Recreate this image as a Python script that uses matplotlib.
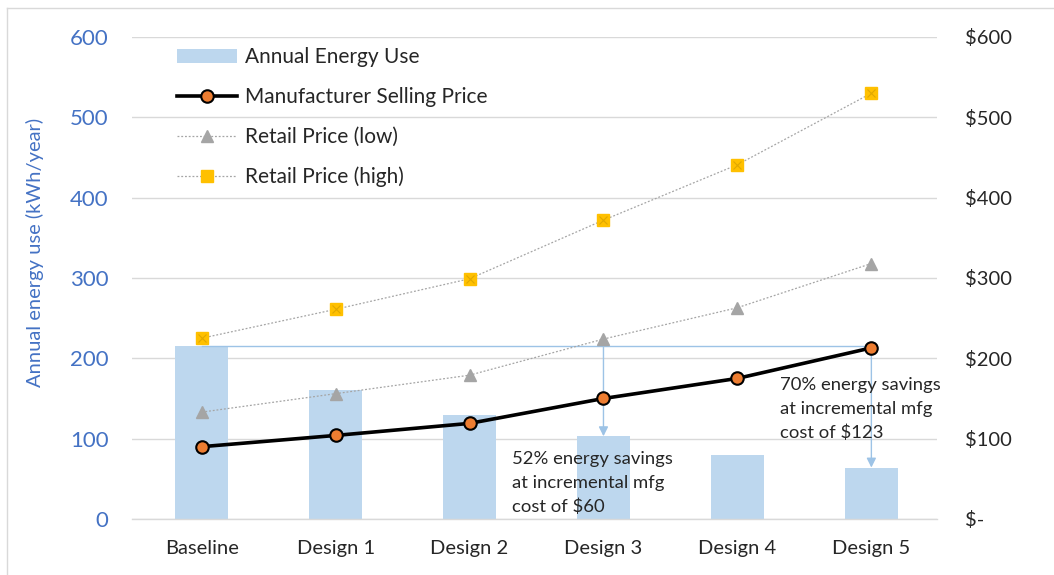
import matplotlib
matplotlib.use('Agg')
import matplotlib.pyplot as plt
from matplotlib.lines import Line2D
from matplotlib.ticker import FuncFormatter, FixedLocator

# ---------------- data ----------------
categories = ['Baseline', 'Design 1', 'Design 2', 'Design 3', 'Design 4', 'Design 5']
energy_use = [215, 161, 129, 103, 80, 64]          # kWh/year (left axis)
msp = [90, 104, 119, 150, 175, 213]                # Manufacturer Selling Price ($)
retail_low = [133, 156, 179, 224, 263, 318]        # Retail Price (low) ($)
retail_high = [225, 261, 299, 372, 441, 530]       # Retail Price (high) ($)
left_ticks = [0, 100, 200, 300, 400, 500, 600]
right_ticks = [0, 100, 200, 300, 400, 500, 600]
savings_notes = ["52% energy savings\nat incremental mfg\ncost of \\$60",
                 "70% energy savings\nat incremental mfg\ncost of \\$123"]
savings_designs = [3, 5]

# ---------------- style ----------------
plt.rcParams['font.family'] = ['Lato', 'DejaVu Sans']
BAR = '#BDD7EE'
BLUE_TXT = '#4472C4'
GRID = '#D9D9D9'
ARROW = '#9DC3E6'
TXT = '#262626'

fig = plt.figure(figsize=(10.54, 5.75), dpi=100)
ax = fig.add_axes([0.1252, 0.0974, 0.7638, 0.8383])
ax2 = ax.twinx()

x = list(range(len(categories)))
bars = ax.bar(x, energy_use, width=0.4, color=BAR, label='Annual Energy Use', zorder=2)

ax.set_xlim(-0.52, 5.49)
ax.set_ylim(0, 600)
ax2.set_ylim(0, 600)
ax.yaxis.set_major_locator(FixedLocator(left_ticks))
ax2.yaxis.set_major_locator(FixedLocator(right_ticks))
ax.set_axisbelow(True)
ax.grid(axis='y', color=GRID, lw=1.0)

for a in (ax, ax2):
    for s in a.spines.values():
        s.set_visible(False)
ax.spines['bottom'].set_visible(True)
ax.spines['bottom'].set_color(GRID)
ax.spines['bottom'].set_linewidth(1.0)

ax.set_xticks(x)
ax.set_xticklabels(categories, fontsize=14.5, color=TXT)
ax.tick_params(axis='x', length=0, pad=15)
ax.tick_params(axis='y', length=0, pad=17, labelsize=16, labelcolor=BLUE_TXT)
ax2.tick_params(axis='y', length=0, pad=20, labelsize=14.5, labelcolor=TXT)
ax2.yaxis.set_major_formatter(FuncFormatter(lambda v, p: '\\$-' if v == 0 else '\\$%d' % v))

ax.set_ylabel('Annual energy use (kWh/year)', fontsize=14.5, color=BLUE_TXT)
ax.yaxis.set_label_coords(-0.109, 0.552)

# lines on right axis
l_low, = ax2.plot(x, retail_low, ls=(0, (1.5, 1.5)), lw=0.9, color='#A5A5A5',
                  marker='^', ms=8, mfc='#A5A5A5', mec='#A5A5A5',
                  label='Retail Price (low)', zorder=3)
l_high, = ax2.plot(x, retail_high, ls=(0, (1.5, 1.5)), lw=0.9, color='#A5A5A5',
                   marker='s', ms=8, mfc='#FFC000', mec='#FFC000',
                   label='Retail Price (high)', zorder=3)
ax2.plot(x, retail_high, ls='none', marker='x', ms=6, mec='#E0A800', mew=0.8, zorder=3.1)
l_msp, = ax2.plot(x, msp, color='black', lw=2.6, marker='o', ms=9,
                  mfc='#ED7D31', mec='black', mew=1.5,
                  label='Manufacturer Selling Price', zorder=4)

# savings annotations (from baseline energy use down to design energy use)
base = energy_use[0]
last = savings_designs[-1]
ax.plot([x[0], x[last]], [base, base], color=ARROW, lw=1.0, zorder=2.5)
for d in savings_designs:
    ax.annotate('', xy=(x[d], energy_use[d]), xytext=(x[d], base),
                arrowprops=dict(arrowstyle='-|>', color=ARROW, lw=1.0,
                                mutation_scale=14, shrinkA=0, shrinkB=0),
                zorder=2.5)

ax.text(2.32, 85, savings_notes[0], fontsize=13.3, color=TXT, va='top', ha='left',
        linespacing=1.6, zorder=5)
ax.text(4.32, 177, savings_notes[1], fontsize=13.3, color=TXT, va='top', ha='left',
        linespacing=1.6, zorder=5)

leg = ax2.legend(handles=[bars, l_msp, l_low, l_high], loc='upper left',
                 bbox_to_anchor=(0.045, 0.996), frameon=False, fontsize=15,
                 handlelength=2.9, handletextpad=0.4, labelspacing=0.95,
                 borderaxespad=0.0)
for t in leg.get_texts():
    t.set_color(TXT)

# outer frame (left and top edges only)
fig.add_artist(Line2D([6.5 / 1054, 6.5 / 1054], [0, 1 - 8 / 575],
                      transform=fig.transFigure, color=GRID, lw=1.0))
fig.add_artist(Line2D([6.5 / 1054, 1], [1 - 8 / 575, 1 - 8 / 575],
                      transform=fig.transFigure, color=GRID, lw=1.0))

fig.savefig('out.png', dpi=100)
